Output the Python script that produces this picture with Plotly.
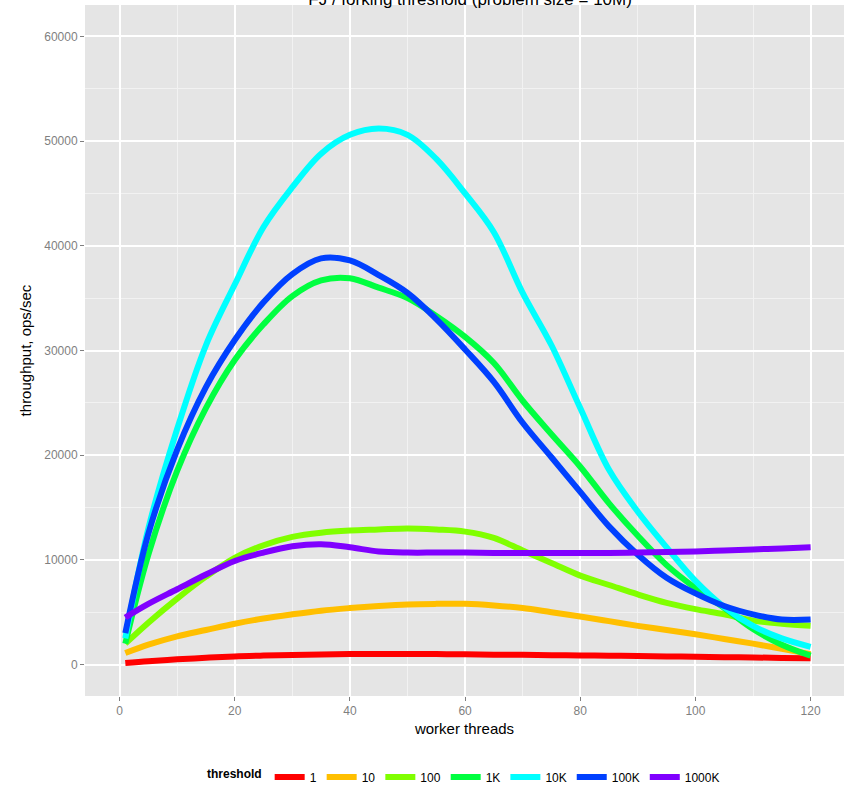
import plotly.graph_objects as go

threads = [1, 5, 10, 15, 20, 25, 30, 35, 40, 45, 50, 55, 60, 65, 70, 75, 80, 85, 90, 95, 100, 105, 110, 115, 120]

thr_1 = [150, 330, 500, 650, 780, 860, 920, 970, 1000, 1020, 1020, 1000, 980, 950, 930, 900, 880, 850, 820, 780, 750, 710, 680, 640, 600]
thr_10 = [1100, 1900, 2700, 3300, 3900, 4400, 4800, 5150, 5400, 5600, 5750, 5800, 5800, 5650, 5400, 5000, 4600, 4150, 3700, 3300, 2900, 2450, 2000, 1500, 1000]
thr_100 = [2000, 4000, 6300, 8400, 10200, 11400, 12200, 12600, 12800, 12900, 13000, 12900, 12700, 12100, 10900, 9700, 8500, 7600, 6700, 5900, 5300, 4800, 4200, 3900, 3700]
thr_1k = [2000, 10500, 18500, 24500, 29100, 32500, 35200, 36700, 36900, 36000, 35000, 33300, 31300, 28800, 25200, 22000, 18900, 15400, 12300, 9500, 7300, 5400, 3400, 1900, 850]
thr_10k = [2500, 13000, 22500, 30500, 36300, 41800, 45600, 48800, 50600, 51200, 50600, 48300, 45000, 41300, 35500, 30500, 24500, 18600, 14600, 11200, 8000, 5500, 3700, 2500, 1700]
thr_100k = [3000, 12500, 20500, 26500, 31000, 34600, 37300, 38800, 38600, 37200, 35500, 33000, 30100, 27000, 23100, 19800, 16500, 13200, 10500, 8300, 6800, 5600, 4800, 4300, 4300]
thr_1000k = [4500, 5800, 7200, 8600, 9900, 10700, 11300, 11500, 11200, 10800, 10700, 10700, 10700, 10650, 10650, 10650, 10650, 10650, 10700, 10750, 10800, 10900, 11000, 11100, 11200]

series_names = ["1", "10", "100", "1K", "10K", "100K", "1000K"]
series_values = [thr_1, thr_10, thr_100, thr_1k, thr_10k, thr_100k, thr_1000k]
series_colors = ["#FF0000", "#FFBF00", "#80FF00", "#00FF40", "#00FFFF", "#0040FF", "#8000FF"]

x_ticks = [0, 20, 40, 60, 80, 100, 120]
y_ticks = [0, 10000, 20000, 30000, 40000, 50000, 60000]

fig = go.Figure()
for name, vals, col in zip(series_names, series_values, series_colors):
    fig.add_trace(go.Scatter(
        x=threads, y=vals, name=name, mode="lines",
        line=dict(color=col, width=6, shape="spline", smoothing=1.0),
    ))

tick_font = dict(family="Liberation Sans, Arial, sans-serif", size=12, color="#7F7F7F")
fig.update_layout(
    width=844, height=788,
    margin=dict(l=85, r=0, t=5, b=92, autoexpand=False),
    paper_bgcolor="white",
    plot_bgcolor="#E5E5E5",
    font=dict(family="Liberation Sans, Arial, sans-serif", size=12, color="black"),
    title=dict(
        text="FJ / forking threshold (problem size = 10M)",
        x=0.557, xanchor="center",
        y=1 - 5 / 788, yref="container", yanchor="bottom",
        font=dict(size=17, color="black"),
    ),
    xaxis=dict(
        range=[-6, 125.8], tickvals=x_ticks, ticktext=[str(v) for v in x_ticks],
        showgrid=True, gridcolor="white", gridwidth=1.5,
        minor=dict(dtick=10, tick0=0, showgrid=True, gridcolor="#F2F2F2", gridwidth=1),
        ticks="outside", ticklen=4, tickcolor="#7F7F7F", tickwidth=1,
        tickfont=tick_font, zeroline=False, showline=False, automargin=False,
        title=dict(text="worker threads", font=dict(size=15, color="black"), standoff=6),
    ),
    yaxis=dict(
        range=[-3000, 63000], tickvals=y_ticks, ticktext=[str(v) for v in y_ticks],
        showgrid=True, gridcolor="white", gridwidth=1.5,
        minor=dict(dtick=5000, tick0=0, showgrid=True, gridcolor="#F2F2F2", gridwidth=1),
        ticks="outside", ticklen=4, tickcolor="#7F7F7F", tickwidth=1,
        tickfont=tick_font, zeroline=False, showline=False, automargin=False,
        title=dict(text="throughput, ops/sec", font=dict(size=15, color="black"), standoff=8),
    ),
    legend=dict(
        orientation="h", x=465 / 844, xref="container", xanchor="center",
        y=1 - 777 / 788, yref="container", yanchor="middle", valign="middle",
        title=dict(text="<b>threshold</b>", font=dict(size=12), side="left"),
        font=dict(size=12), itemwidth=30, tracegroupgap=0,
    ),
    showlegend=True,
)

fig.write_html(
    "out.html",
    config={"displayModeBar": False},
    post_script="document.body.style.margin='0';document.body.style.overflow='hidden';",
)
